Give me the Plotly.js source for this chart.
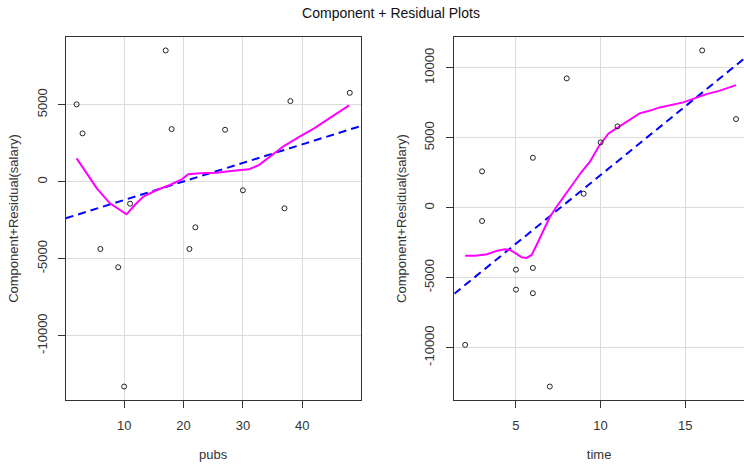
<!DOCTYPE html>
<html>
<head>
<meta charset="utf-8">
<script src="https://cdn.plot.ly/plotly-3.0.1.min.js"></script>
<style>html,body{margin:0;padding:0;background:#fff;overflow:hidden}</style>
</head>
<body>
<div id="chart" style="width:744px;height:465px"></div>
<script>
// ---- data ----
const pubs   = [2, 3, 17, 18, 27, 38, 48, 11, 30, 37, 22, 6, 9, 21, 10];
const pubsCR = [5030, 3143, 8532, 3422, 3377, 5240, 5779, -1429, -558, -1727, -2961, -4370, -5558, -4370, -13312];

const time   = [3, 3, 6, 8, 9, 10, 11, 16, 18, 5, 5, 6, 6, 2, 7];
const timeCR = [2600, -950, 3571, 9243, 1000, 4671, 5814, 11243, 6336, -4429, -5857, -4307, -6114, -9807, -12786];

const pubsSmoothX = [2.0, 3.7, 5.4, 7.6, 9.0, 10.4, 11.8, 13.2, 15.5, 17.7, 19.7, 20.8, 22.8, 25.6, 28.4, 31.0, 32.7, 34.6, 36.9, 39.7, 42.0, 44.8, 47.9];
const pubsSmoothY = [1519, 545, -429, -1403, -1760, -2117, -1513, -974, -539, -214, 156, 481, 545, 584, 714, 805, 1084, 1623, 2318, 2968, 3468, 4182, 4961];

const timeSmoothX = [2.0, 2.6, 3.3, 3.9, 4.35, 4.65, 5.04, 5.34, 5.63, 5.93, 6.22, 6.61, 7.01, 7.4, 7.89, 8.38, 8.88, 9.37, 9.88, 10.47, 11.06, 11.85, 12.3, 12.83, 13.5, 14.88, 16.26, 17.0, 18.0];
const timeSmoothY = [-3429, -3429, -3329, -3071, -2971, -3021, -3307, -3543, -3593, -3379, -2664, -1714, -643, 71, 907, 1743, 2571, 3286, 4357, 5314, 5786, 6386, 6743, 6907, 7171, 7529, 8121, 8350, 8764];

const pubsFitX = [0.16, 49.84];
const pubsFitY = [-2377, 3617];
const timeFitX = [1.36, 18.47];
const timeFitY = [-6150, 10650];

const pubsTicks = [10, 20, 30, 40];
const pubsTickText = ['10', '20', '30', '40'];
const timeTicks = [5, 10, 15];
const timeTickText = ['5', '10', '15'];
const leftYTicks = [-10000, -5000, 0, 5000];
const leftYTickText = ['-10000', '-5000', '0', '5000'];
const rightYTicks = [-10000, -5000, 0, 5000, 10000];
const rightYTickText = ['-10000', '-5000', '0', '5000', '10000'];

const titleText = 'Component + Residual Plots';
const yTitle = 'Component+Residual(salary)';

// ---- traces ----
const pts = {symbol: 'circle-open', size: 5, color: '#222', line: {width: 1}};
const traces = [
  {x: pubsFitX, y: pubsFitY, xaxis: 'x', yaxis: 'y', mode: 'lines', line: {color: '#0000ff', width: 2, dash: '8px,5px'}},
  {x: pubsSmoothX, y: pubsSmoothY, xaxis: 'x', yaxis: 'y', mode: 'lines', line: {color: '#ff00ff', width: 2, shape: 'linear'}},
  {x: pubs, y: pubsCR, xaxis: 'x', yaxis: 'y', mode: 'markers', marker: pts},
  {x: timeFitX, y: timeFitY, xaxis: 'x2', yaxis: 'y2', mode: 'lines', line: {color: '#0000ff', width: 2, dash: '8px,5px'}},
  {x: timeSmoothX, y: timeSmoothY, xaxis: 'x2', yaxis: 'y2', mode: 'lines', line: {color: '#ff00ff', width: 2, shape: 'linear'}},
  {x: time, y: timeCR, xaxis: 'x2', yaxis: 'y2', mode: 'markers', marker: pts}
];

const common = {
  showgrid: true, gridcolor: '#dcdcdc', gridwidth: 1, zeroline: false,
  showline: true, linecolor: '#333', linewidth: 1,
  ticks: 'outside', ticklen: 7, tickcolor: '#333', tickwidth: 1,
  tickmode: 'array', automargin: false, fixedrange: true,
  tickfont: {size: 13, color: '#333'}
};

const ydom = [65 / 465, 428 / 465];
const layout = {
  width: 744, height: 465,
  margin: {l: 0, r: 0, t: 0, b: 0},
  paper_bgcolor: '#fff', plot_bgcolor: '#fff',
  showlegend: false,
  font: {family: 'Liberation Sans, Arial, sans-serif', size: 13, color: '#222'},
  title: {text: titleText, x: 391 / 744, xanchor: 'center', xref: 'paper', y: 1 - 13 / 465, yanchor: 'middle', font: {size: 14, color: '#111'}},
  xaxis: Object.assign({}, common, {domain: [65.7 / 744, 360.7 / 744], range: [0.16, 49.84], anchor: 'y', mirror: true,
    tickvals: pubsTicks, ticktext: pubsTickText, ticklabelstandoff: 6,
    title: {text: 'pubs', standoff: 18, font: {size: 13, color: '#333'}}}),
  yaxis: Object.assign({}, common, {domain: ydom, range: [-14186, 9406], anchor: 'x', mirror: true, tickangle: -90,
    tickvals: leftYTicks, ticktext: leftYTickText, ticklabelstandoff: 6,
    title: {text: yTitle, standoff: 12, font: {size: 13, color: '#333'}}}),
  xaxis2: Object.assign({}, common, {domain: [454.3 / 744, 1], range: [1.36, 18.47], anchor: 'y2', mirror: true,
    tickvals: timeTicks, ticktext: timeTickText, ticklabelstandoff: 6,
    title: {text: 'time', standoff: 18, font: {size: 13, color: '#333'}}}),
  yaxis2: Object.assign({}, common, {domain: ydom, range: [-13747, 12204], anchor: 'x2', mirror: false, tickangle: -90,
    tickvals: rightYTicks, ticktext: rightYTickText, ticklabelstandoff: 7,
    title: {text: yTitle, standoff: 12, font: {size: 13, color: '#333'}}})
};

Plotly.newPlot('chart', traces, layout, {displayModeBar: false, staticPlot: true});
</script>
</body>
</html>
